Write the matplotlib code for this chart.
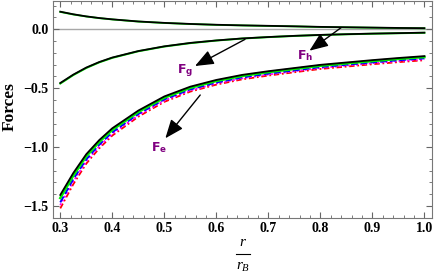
import matplotlib
matplotlib.use("Agg")
import matplotlib.pyplot as plt
from matplotlib.ticker import MultipleLocator
from matplotlib.lines import Line2D

plt.rcParams['mathtext.fontset'] = 'custom'
plt.rcParams['mathtext.it'] = 'Liberation Serif:italic'
plt.rcParams['mathtext.rm'] = 'Liberation Serif'
plt.rcParams['mathtext.bf'] = 'DejaVu Sans:bold'

# ---- data ----
r = [0.3, 0.325, 0.35, 0.375, 0.4, 0.45, 0.5, 0.55, 0.6, 0.65, 0.7, 0.75, 0.8, 0.85, 0.9, 0.95, 1.0]

Fe_black   = [-1.406, -1.220, -1.060, -0.940, -0.840, -0.690, -0.570, -0.487, -0.430, -0.387, -0.356, -0.329, -0.302, -0.282, -0.262, -0.244, -0.228]
Fe_green   = [-1.432, -1.242, -1.078, -0.956, -0.854, -0.702, -0.581, -0.497, -0.439, -0.396, -0.364, -0.337, -0.310, -0.290, -0.270, -0.252, -0.236]
Fe_blue    = [-1.469, -1.272, -1.104, -0.979, -0.874, -0.719, -0.595, -0.510, -0.452, -0.408, -0.376, -0.349, -0.321, -0.301, -0.281, -0.263, -0.247]
Fe_magenta = [-1.492, -1.291, -1.120, -0.993, -0.887, -0.729, -0.605, -0.519, -0.460, -0.416, -0.384, -0.356, -0.328, -0.308, -0.288, -0.270, -0.254]
Fe_red     = [-1.520, -1.315, -1.140, -1.010, -0.902, -0.742, -0.616, -0.529, -0.470, -0.425, -0.393, -0.365, -0.337, -0.317, -0.297, -0.279, -0.263]

Fg_black = [-0.456, -0.385, -0.325, -0.278, -0.240, -0.185, -0.145, -0.116, -0.095, -0.078, -0.066, -0.056, -0.048, -0.042, -0.037, -0.033, -0.029]
Fg_green = [-0.461, -0.389, -0.329, -0.281, -0.243, -0.187, -0.147, -0.118, -0.096, -0.079, -0.067, -0.057, -0.049, -0.043, -0.038, -0.034, -0.030]

Fh_black = [0.149, 0.127, 0.109, 0.095, 0.084, 0.066, 0.054, 0.045, 0.038, 0.033, 0.029, 0.025, 0.020, 0.017, 0.014, 0.011, 0.009]
Fh_green = [0.147, 0.125, 0.108, 0.094, 0.083, 0.065, 0.053, 0.044, 0.037, 0.032, 0.028, 0.024, 0.019, 0.016, 0.013, 0.010, 0.008]

labels = [r'$\mathbf{F}_{\mathbf{g}}$', r'$\mathbf{F}_{\mathbf{h}}$', r'$\mathbf{F}_{\mathbf{e}}$']
label_pos = [(0.540, -0.355), (0.771, -0.227), (0.490, -1.008)]
arrow_from = [(0.655, -0.086), (0.840, 0.014), (0.569, -0.558)]
arrow_to = [(0.559, -0.312), (0.779, -0.182), (0.502, -0.925)]

xticks = [0.3, 0.4, 0.5, 0.6, 0.7, 0.8, 0.9, 1.0]
yticks = [-1.5, -1.0, -0.5, 0.0]

# ---- figure ----
fig = plt.figure(figsize=(4.36, 2.73), dpi=100)
ax = fig.add_axes([53/436, 1-218.3/273, (431.7-53)/436, (218.3-0.6)/273])

ax.axhline(0, color='#a8a8a8', lw=1.0, zorder=1)

# F_e family
ax.plot(r, Fe_red, color='#ff0000', lw=1.3, ls=(0, (3, 1.5, 1, 1.5)), zorder=2)
ax.plot(r, Fe_magenta, color='#ff00ff', lw=1.4, ls=(0, (1, 1.2)), zorder=3)
ax.plot(r, Fe_blue, color='#0000ff', lw=1.4, ls=(0, (3.5, 1.5)), zorder=4)
ax.plot(r, Fe_green, color='#00ee00', lw=1.8, ls='-', zorder=5)
ax.plot(r, Fe_black, color='black', lw=1.3, ls='-', zorder=6)

# F_g family
ax.plot(r, Fg_green, color='#00ee00', lw=1.4, ls='-', zorder=5)
ax.plot(r, Fg_black, color='black', lw=1.3, ls='-', zorder=6)

# F_h family
ax.plot(r, Fh_green, color='#00ee00', lw=1.3, ls='-', zorder=5)
ax.plot(r, Fh_black, color='black', lw=1.3, ls='-', zorder=6)

for lab, pos, a0, a1 in zip(labels, label_pos, arrow_from, arrow_to):
    ax.annotate('', xy=a1, xytext=a0,
                arrowprops=dict(arrowstyle='-|>,head_length=0.95,head_width=0.38',
                                color='black', lw=1.0, mutation_scale=12,
                                shrinkA=0, shrinkB=0), zorder=7)
    ax.text(pos[0], pos[1], lab, color='#800080', fontsize=9,
            ha='center', va='center', zorder=7)

ax.set_xlim(0.286, 1.014)
ax.set_ylim(-1.604, 0.243)
ax.set_xticks(xticks)
ax.set_yticks(yticks)
ax.set_xticklabels([f'{v:.1f}' for v in xticks])
ax.set_yticklabels([f'{v:.1f}'.replace('-', '\u2212') for v in yticks])
ax.xaxis.set_minor_locator(MultipleLocator(0.02))
ax.yaxis.set_minor_locator(MultipleLocator(0.1))
ax.tick_params(which='both', direction='in', top=True, right=True, color='#666666')
ax.tick_params(which='major', length=4.5, width=0.8, pad=3)
ax.tick_params(which='minor', length=2.5, width=0.6)
for lab in ax.get_xticklabels() + ax.get_yticklabels():
    lab.set_fontfamily('Liberation Serif')
    lab.set_fontweight('bold')
    lab.set_fontsize(10)
for sp in ax.spines.values():
    sp.set_color('#777777')
    sp.set_linewidth(0.8)

fig.text(10/436, 1-107/273, 'Forces', rotation=90, ha='center', va='center',
         fontfamily='Liberation Serif', fontweight='bold', fontsize=12.5)

# x label: r / r_B
fig.text(243/436, 1-242/273, r'$r$', ha='center', va='center', fontsize=11)
fig.add_artist(Line2D([236/436, 250/436], [1-254/273, 1-254/273], color='black', lw=0.8))
fig.text(243/436, 1-266/273, r'$r_B$', ha='center', va='center', fontsize=11)

fig.savefig('out.png', dpi=100)
